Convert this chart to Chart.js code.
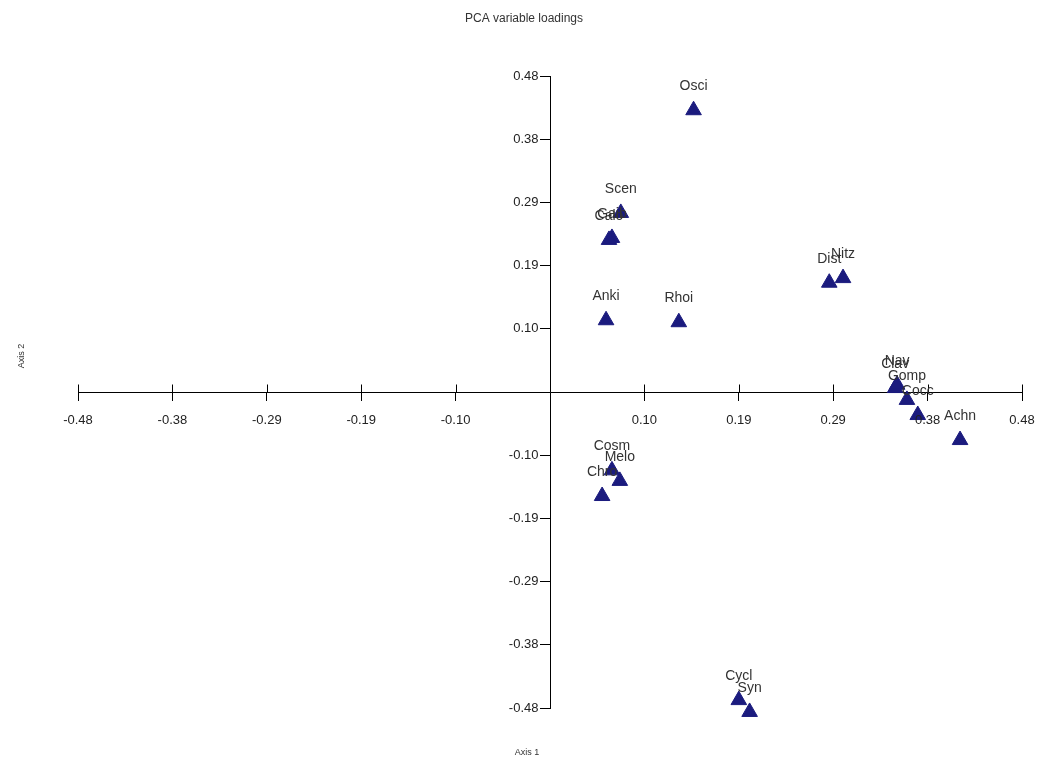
<!DOCTYPE html>
<html>
<head>
<meta charset="utf-8">
<script src="https://cdn.jsdelivr.net/npm/chart.js@4.4.1/dist/chart.umd.min.js"></script>
<style>
  html, body { margin: 0; padding: 0; background: #fff; }
  #wrap { width: 1045px; height: 767px; }
</style>
</head>
<body>
<div id="wrap"><canvas id="pcaChart"></canvas></div>
<script>
// variable loadings
const taxa   = ['Osci', 'Scen', 'Gaib', 'Calo', 'Nitz', 'Dist', 'Anki', 'Rhoi', 'Clav', 'Nav', 'Gomp', 'Cocc', 'Achn', 'Cosm', 'Melo', 'Chro', 'Cycl', 'Syn'];
const axis1  = [0.146, 0.072, 0.063, 0.060, 0.298, 0.284, 0.057, 0.131, 0.351, 0.353, 0.363, 0.374, 0.417, 0.063, 0.071, 0.053, 0.192, 0.203];
const axis2  = [0.428, 0.272, 0.234, 0.231, 0.173, 0.166, 0.109, 0.106, 0.006, 0.011, -0.012, -0.035, -0.073, -0.119, -0.135, -0.158, -0.468, -0.486];

const tickValues = [-0.48, -0.384, -0.288, -0.192, -0.096, 0.096, 0.192, 0.288, 0.384, 0.48];
const tickLabels = ['-0.48', '-0.38', '-0.29', '-0.19', '-0.10', '0.10', '0.19', '0.29', '0.38', '0.48'];

const points = taxa.map((t, i) => ({ x: axis1[i], y: axis2[i], name: t }));

function fixTicks(scale) {
    scale.ticks = tickValues.map(v => ({ value: v }));
}

const labelsPlugin = {
    id: 'extras',
    afterDraw(chart) {
        const ctx = chart.ctx;
        const xs = chart.scales.x;
        const ys = chart.scales.y;
        const y0 = Math.round(ys.getPixelForValue(0)) + 0.5;
        const x0 = Math.round(xs.getPixelForValue(0)) + 0.5;
        ctx.save();
        // upper half of the x tick marks
        ctx.strokeStyle = '#000';
        ctx.lineWidth = 1;
        ctx.beginPath();
        tickValues.forEach(v => {
            const px = Math.round(xs.getPixelForValue(v)) + 0.5;
            ctx.moveTo(px, y0);
            ctx.lineTo(px, y0 - 8);
        });
        ctx.stroke();

        // tick labels
        ctx.fillStyle = '#222';
        ctx.font = '13px "Liberation Sans", Arial, sans-serif';
        ctx.textBaseline = 'middle';
        ctx.textAlign = 'right';
        tickValues.forEach((v, i) => {
            ctx.fillText(tickLabels[i], x0 - 12, ys.getPixelForValue(v));
        });
        ctx.textAlign = 'center';
        tickValues.forEach((v, i) => {
            ctx.fillText(tickLabels[i], xs.getPixelForValue(v), y0 + 28);
        });

        // point names
        ctx.fillStyle = '#333';
        ctx.font = '14px "Liberation Sans", Arial, sans-serif';
        chart.getDatasetMeta(0).data.forEach((el, i) => {
            ctx.fillText(taxa[i], el.x, el.y - 24);
        });

        // title and axis names
        ctx.font = '12px "Liberation Sans", Arial, sans-serif';
        ctx.fillText('PCA variable loadings', 524, 19);
        ctx.font = '9px "Liberation Sans", Arial, sans-serif';
        ctx.fillText('Axis 1', 527, 753);
        ctx.translate(22, 356);
        ctx.rotate(-Math.PI / 2);
        ctx.fillText('Axis 2', 0, 0);
        ctx.restore();
    }
};

new Chart(document.getElementById('pcaChart'), {
    type: 'scatter',
    data: {
        datasets: [{
            data: points,
            pointStyle: 'triangle',
            pointRadius: 9,
            pointHoverRadius: 9,
            backgroundColor: '#1b1b7e',
            borderColor: '#1b1b7e',
            borderWidth: 1,
            clip: false
        }]
    },
    options: {
        responsive: true,
        maintainAspectRatio: false,
        animation: false,
        layout: { padding: { left: 78, right: 23, top: 76, bottom: 59 } },
        plugins: {
            legend: { display: false },
            tooltip: { enabled: false },
            title: { display: false }
        },
        scales: {
            x: {
                type: 'linear',
                min: -0.48,
                max: 0.48,
                position: { y: 0 },
                afterBuildTicks: fixTicks,
                grid: { drawOnChartArea: false, drawTicks: true, tickLength: 8, color: '#000' },
                border: { display: true, color: '#000', width: 1 },
                ticks: { display: false, autoSkip: false }
            },
            y: {
                type: 'linear',
                min: -0.48,
                max: 0.48,
                position: { x: 0 },
                afterBuildTicks: fixTicks,
                grid: { drawOnChartArea: false, drawTicks: true, tickLength: 10, color: '#000' },
                border: { display: true, color: '#000', width: 1 },
                ticks: { display: false, autoSkip: false }
            }
        }
    },
    plugins: [labelsPlugin]
});
</script>
</body>
</html>
